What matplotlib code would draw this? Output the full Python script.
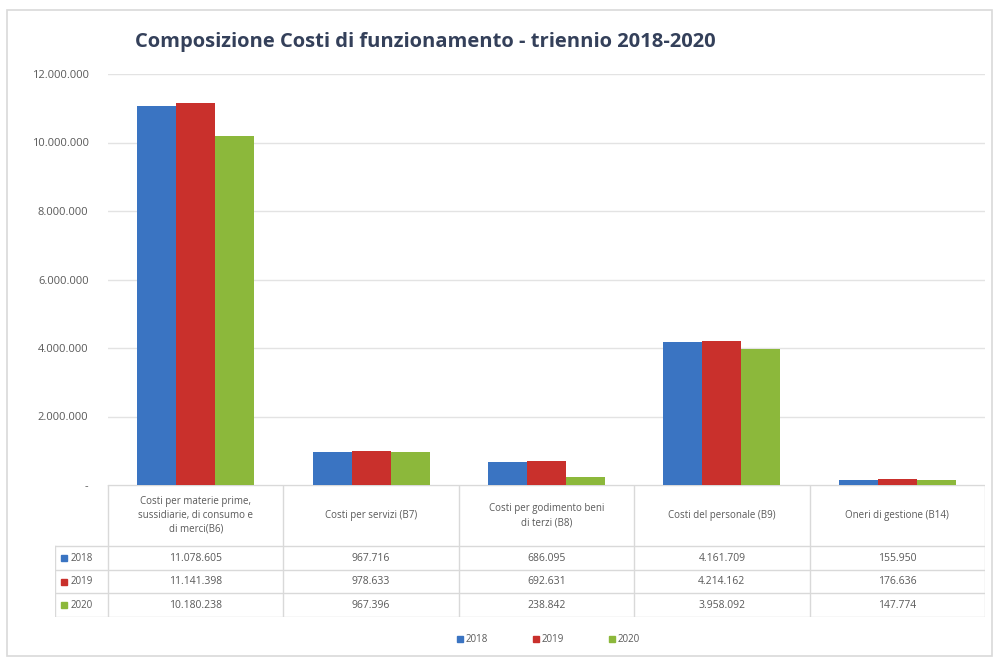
import numpy as np
import matplotlib.pyplot as plt
from matplotlib.patches import Rectangle
from matplotlib.lines import Line2D
import matplotlib.ticker as ticker

plt.rcParams['font.family'] = ['Open Sans', 'DejaVu Sans']

# data
categories = ["Costi per materie prime,\nsussidiarie, di consumo e\ndi merci(B6)",
              "Costi per servizi (B7)",
              "Costi per godimento beni\ndi terzi (B8)",
              "Costi del personale (B9)",
              "Oneri di gestione (B14)"]
years = ["2018", "2019", "2020"]
v2018 = [11078605, 967716, 686095, 4161709, 155950]
v2019 = [11141398, 978633, 692631, 4214162, 176636]
v2020 = [10180238, 967396, 238842, 3958092, 147774]
series = [v2018, v2019, v2020]
colors = ['#3a74c2', '#c9302c', '#8cb83b']

W, H = 994, 659
fig = plt.figure(figsize=(W / 100, H / 100), dpi=100)

def fx(px):
    return px / W

def fy(py):
    return 1 - py / H

# outer frame
fig.patches.append(Rectangle((fx(7), fy(656)), fx(985), (646) / H, transform=fig.transFigure,
                             fill=False, edgecolor='#d9d9d9', lw=1.2))

# main chart
left, right, top, bottom = 108, 985, 74, 485
ax = fig.add_axes([fx(left), fy(bottom), fx(right - left), (bottom - top) / H])
x = np.arange(len(categories))
bw = 0.222
for i, vals in enumerate(series):
    ax.bar(x + (i - 1) * bw, vals, bw, color=colors[i], edgecolor='none', zorder=3, label=years[i])

ax.set_xlim(-0.5, len(categories) - 0.5)
ax.set_ylim(0, 12000000)
ax.set_yticks(np.arange(0, 12000001, 2000000))

def fmt(v, pos):
    if v == 0:
        return '-'
    return '{:,.0f}'.format(v).replace(',', '.')

ax.yaxis.set_major_formatter(ticker.FuncFormatter(fmt))
ax.tick_params(axis='y', length=0, pad=14, labelsize=8, labelcolor='#595959')
ax.tick_params(axis='x', length=0, labelbottom=False)
ax.grid(axis='y', color='#e3e3e3', lw=1, zorder=0)
for s in ax.spines.values():
    s.set_visible(False)

# data table below the chart
tleft, ttop, tbottom = 55, 485, 617
unit = (right - left) / len(categories)
ext = (left - tleft) / unit
tax = fig.add_axes([fx(tleft), fy(tbottom), fx(right - tleft), (tbottom - ttop) / H])
hh = 2.6
nrows = len(years)
tax.set_xlim(-0.5 - ext, len(categories) - 0.5)
tax.set_ylim(hh + nrows, 0)
tax.axis('off')
lc = '#d9d9d9'
# horizontal lines
tax.plot([-0.5, len(categories) - 0.5], [0, 0], color=lc, lw=1)
for r in range(nrows + 1):
    tax.plot([-0.5 - ext, len(categories) - 0.5], [hh + r, hh + r], color=lc, lw=1)
# vertical lines
for c in range(len(categories) + 1):
    tax.plot([c - 0.5, c - 0.5], [0, hh + nrows], color=lc, lw=1)
tax.plot([-0.5 - ext, -0.5 - ext], [hh, hh + nrows], color=lc, lw=1)

for c, cat in enumerate(categories):
    tax.text(c, hh / 2, cat, ha='center', va='center', fontsize=7, color='#595959', linespacing=1.35)
for r, vals in enumerate(series):
    yy = hh + r + 0.5
    tax.plot(-0.5 - ext + 0.05, yy, marker='s', ms=4.5, color=colors[r], ls='none')
    tax.text(-0.5 - ext + 0.09, yy, years[r], ha='left', va='center', fontsize=7, color='#595959')
    for c, v in enumerate(vals):
        tax.text(c, yy, fmt(v, None), ha='center', va='center', fontsize=7.5, color='#595959')

# title
fig.text(fx(135), fy(42), 'Composizione Costi di funzionamento - triennio 2018-2020',
         fontsize=14.5, fontweight='bold', color='#34405a', ha='left', va='center')

# legend
handles = [Line2D([0], [0], marker='s', ls='none', ms=5, color=c) for c in colors]
fig.legend(handles, years, loc='center', bbox_to_anchor=(fx(548), fy(640)), ncol=3,
           frameon=False, fontsize=7, labelcolor='#595959', handletextpad=0.2,
           columnspacing=4.5, handlelength=0.8)

fig.savefig('out.png', dpi=100)
